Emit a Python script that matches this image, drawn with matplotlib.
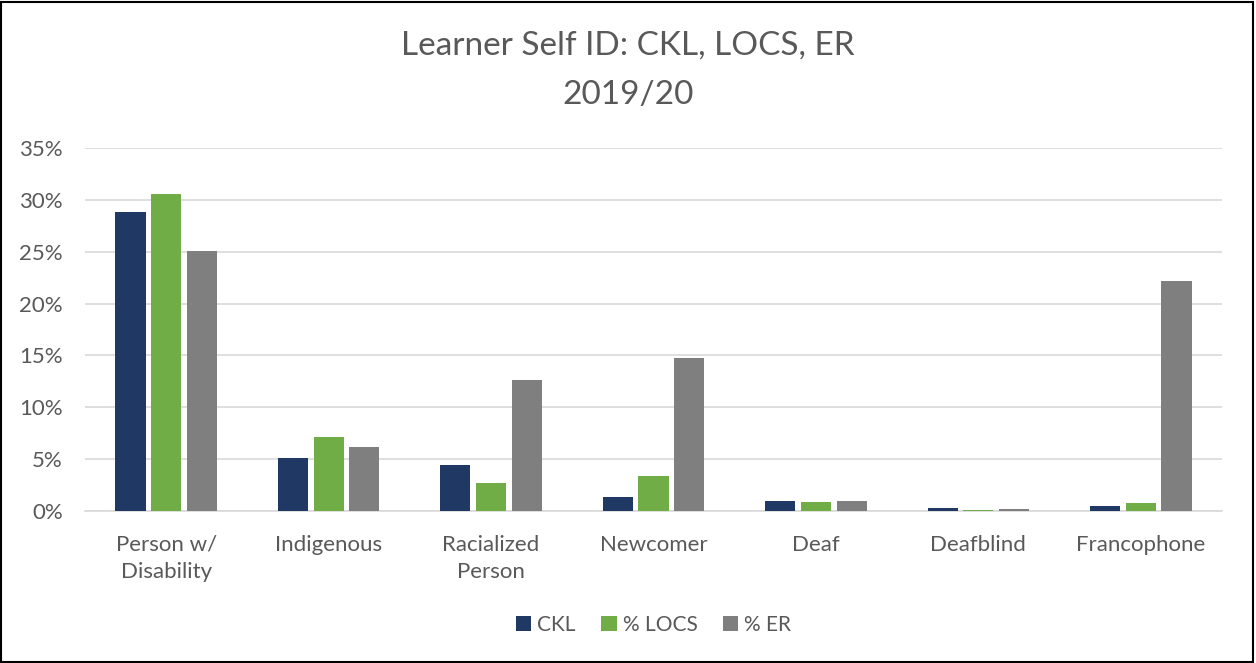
import numpy as np
import matplotlib
matplotlib.use("Agg")
from matplotlib import pyplot as plt
from matplotlib.ticker import FuncFormatter

categories = ["Person w/\nDisability", "Indigenous", "Racialized\nPerson", "Newcomer",
              "Deaf", "Deafblind", "Francophone"]
ckl = [28.8, 5.1, 4.4, 1.35, 1.0, 0.25, 0.5]
locs = [30.6, 7.1, 2.7, 3.4, 0.9, 0.13, 0.8]
er = [25.1, 6.2, 12.6, 14.8, 0.95, 0.2, 22.2]
series_names = ["CKL", "% LOCS", "% ER"]
colors = ["#203864", "#70ad47", "#7f7f7f"]

plt.rcParams['font.family'] = ['Lato', 'DejaVu Sans']
txt = "#595959"

fig = plt.figure(figsize=(12.56, 6.63), dpi=100)
ax = fig.add_axes([85/1256, 1 - 511/663, (1222-85)/1256, (511-148)/663])

x = np.arange(len(categories))
w = 0.185
step = 0.22
for i, (vals, name, c) in enumerate(zip([ckl, locs, er], series_names, colors)):
    ax.bar(x + (i - 1) * step, vals, width=w, color=c, label=name, zorder=3)

ax.set_xlim(-0.5, len(categories) - 0.5)
ax.set_ylim(0, 35)
ax.set_yticks(np.arange(0, 36, 5))
ax.yaxis.set_major_formatter(FuncFormatter(lambda v, p: "%d%%" % v))
ax.set_xticks(x)
ax.set_xticklabels(categories, linespacing=1.45)
ax.grid(axis="y", color="#d9d9d9", linewidth=1.2, zorder=0)
for s in ["top", "right", "left"]:
    ax.spines[s].set_visible(False)
ax.spines["bottom"].set_color("#d9d9d9")
ax.spines["bottom"].set_linewidth(1.2)
ax.tick_params(axis="both", length=0, labelsize=16, colors=txt)
ax.tick_params(axis="x", pad=17)
ax.tick_params(axis="y", pad=16)

fig.text(0.5, 1 - 46/663, "Learner Self ID: CKL, LOCS, ER", ha="center", va="center",
         fontsize=24, color=txt)
fig.text(0.5, 1 - 95/663, "2019/20", ha="center", va="center", fontsize=24, color=txt)

ax.legend(loc="center", bbox_to_anchor=(0.5, (511 - 625) / (511 - 148)), ncol=3,
          frameon=False, fontsize=15, labelcolor=txt, handlelength=0.75, handleheight=0.75,
          handletextpad=0.3, columnspacing=1.2)

fig.patches.append(plt.Rectangle((0.001, 0.002), 0.997, 0.995, transform=fig.transFigure,
                                 fill=False, edgecolor="black", linewidth=1.5))

fig.savefig("out.png", dpi=100)
